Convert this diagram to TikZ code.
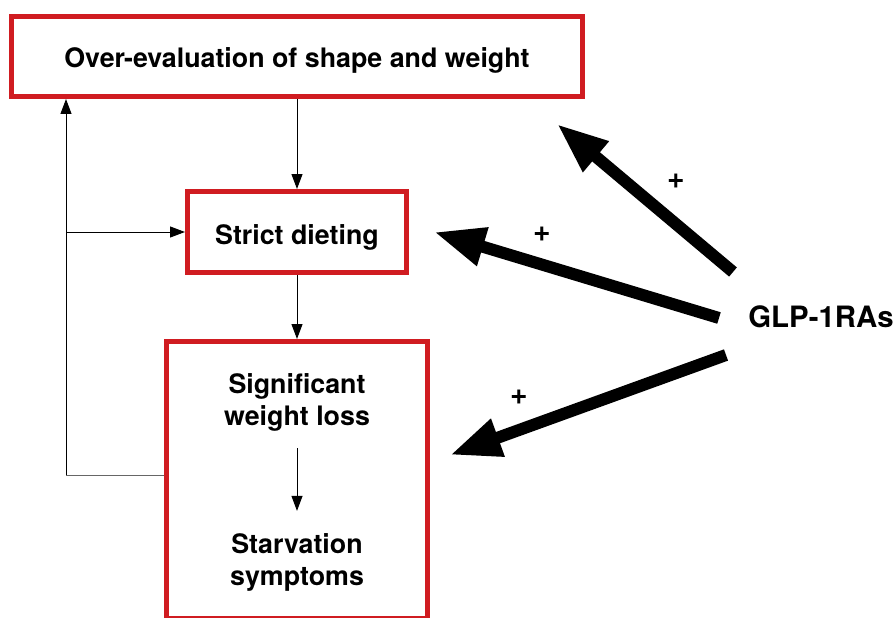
\documentclass[tikz,border=0pt]{standalone}
\usepackage{fontspec}
\setmainfont{TeX Gyre Heros}
\usetikzlibrary{arrows.meta}
\definecolor{boxred}{RGB}{208,28,33}
\begin{document}
\begin{tikzpicture}[x=1pt,y=-1pt,
  redbox/.style={draw=boxred, line width=5pt, inner sep=0pt, outer sep=2.5pt},
  lbl/.style={font=\fontsize{26.8}{32}\selectfont\bfseries, inner sep=0pt, align=center},
  thinarrow/.style={line width=1pt, -{Triangle[length=15pt,width=11pt]}},
  bigarrow/.style={line width=12pt, -{Triangle[length=51pt,width=37pt]}},
  plus/.style={font=\fontsize{30}{30}\selectfont\bfseries, inner sep=0pt}]
\useasboundingbox (0,0) rectangle (895,618);
% boxes
\node[redbox, minimum width=571pt, minimum height=80pt] (top) at (297,56.5) {};
\node[redbox, minimum width=219pt, minimum height=81pt] (strict) at (297,232) {};
\node[redbox, minimum width=261pt, minimum height=277pt] (bigbox) at (297,480) {};
% texts
\node[lbl, anchor=base] (topt) at (297,68) {Over-evaluation of shape and weight};
\node[lbl, anchor=base] (strictt) at (297,244) {Strict dieting};
\node[lbl] (swl) at (297,402) {Significant\\weight loss};
\node[lbl] (ss) at (297,562) {Starvation\\symptoms};
\node[font=\fontsize{29.4}{34}\selectfont\bfseries, inner sep=0pt, anchor=base] (glp) at (821,327) {GLP-1RAs};
% thin connectors
\draw[thinarrow] (top.south) -- (top.south |- strict.north);
\draw[thinarrow] (strict.south) -- (strict.south |- bigbox.north);
\draw[thinarrow, shorten <=17pt, shorten >=22pt] (swl.south) -- (ss.north);
\coordinate (fb) at (66,475);
\draw[line width=1pt, draw=black!60] (bigbox.west |- fb) -- (fb);
\draw[thinarrow] (fb) -- (fb |- top.south);
\draw[thinarrow] (fb |- strict.west) -- (strict.west);
% thick arrows from GLP-1RAs
\coordinate (a1) at (733,272); \coordinate (h1) at (557,124);
\coordinate (a2) at (719,318); \coordinate (h2) at (434,232);
\coordinate (a3) at (726,355); \coordinate (h3) at (450,455);
\draw[bigarrow] (a1) -- (h1);
\draw[bigarrow] (a2) -- (h2);
\draw[bigarrow] (a3) -- (h3);
% plus signs
\node[plus] (p1) at (676,181) {+};
\node[plus] (p2) at (542,234) {+};
\node[plus] (p3) at (519,397) {+};
\end{tikzpicture}
\end{document}
